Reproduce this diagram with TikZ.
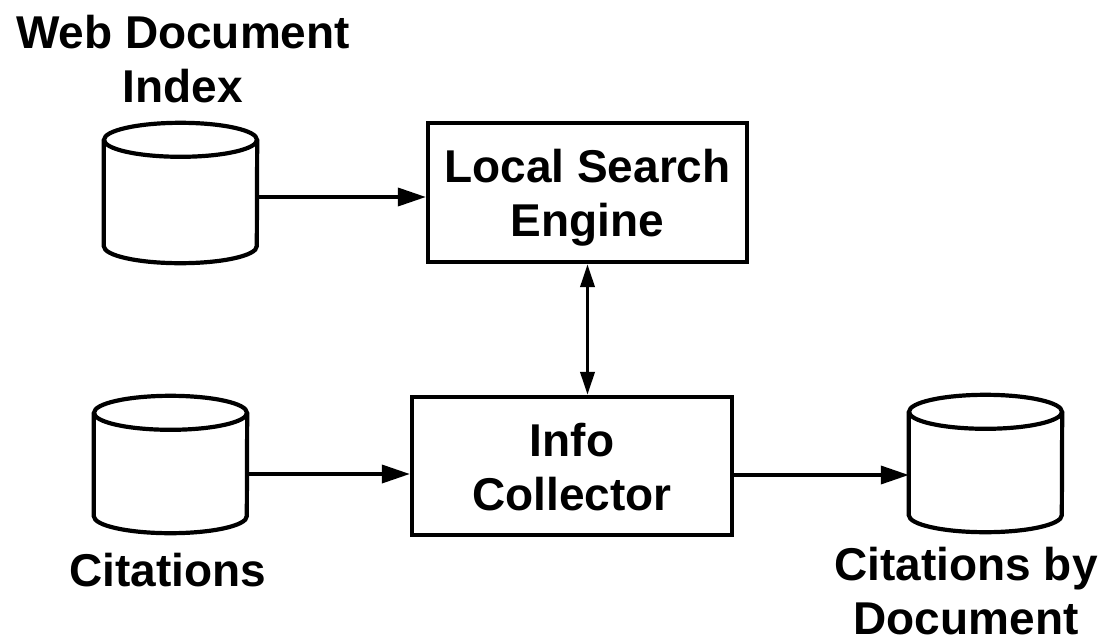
\documentclass[tikz,border=0pt]{standalone}
\usepackage{fontspec}
\setmainfont{Liberation Sans}
\usetikzlibrary{arrows.meta}
\tikzset{
  cylbox/.style={rectangle, inner sep=0pt, minimum width=153pt},
  procbox/.style={rectangle, draw, line width=4.2pt, inner sep=0pt, align=center,
    text height=88pt, text depth=0pt},
  lbl/.style={inner sep=0pt, anchor=base, align=center},
  harr/.style={line width=3.6pt, -{Triangle[length=28pt,width=18pt]}},
  varr/.style={line width=3.6pt, {Triangle[length=23pt,width=14pt]}-{Triangle[length=23pt,width=14pt]}},
  cylline/.style={line width=4.2pt},
}
\newcommand\drawcylinder[1]{%
  \draw[cylline] ([yshift=-17pt]#1.north) ellipse [x radius=76.5pt, y radius=17pt];
  \draw[cylline] ([yshift=-17pt]#1.north west) -- ([yshift=17pt]#1.south west)
    arc[start angle=180, end angle=360, x radius=76.5pt, y radius=17pt]
    -- ([yshift=-17pt]#1.north east);
}
\begin{document}
\begin{tikzpicture}[x=1pt,y=1pt, font=\fontsize{46}{54}\selectfont\bfseries]
\useasboundingbox (0,0) rectangle (1104,-643);
% cylinders
\node[cylbox, minimum height=140pt] (wdb) at (180.5,-193) {};
\node[cylbox, minimum height=137pt] (cit) at (170.5,-464.5) {};
\node[cylbox, minimum height=137pt] (cbd) at (985.5,-463.5) {};
\drawcylinder{wdb}
\drawcylinder{cit}
\drawcylinder{cbd}
% process boxes
\node[procbox, minimum width=319pt, minimum height=139pt] (lse) at (587.5,-192.5) {Local Search\\Engine};
\node[procbox, minimum width=320pt, minimum height=138pt] (ic) at (572,-466) {Info\\Collector};
% labels
\node[lbl] (wdbl) at (183,-102) {Web Document\\Index};
\node[lbl] (citl) at (167.5,-586) {Citations};
\node[lbl] (cbdl) at (966,-634) {Citations by\\Document};
% connectors
\draw[harr] ([yshift=-4pt]wdb.east) -- ([yshift=-4pt]wdb.east -| lse.west);
\draw[harr] ([yshift=-9.5pt]cit.east) -- ([yshift=-9.5pt]cit.east -| ic.west);
\draw[harr] ([yshift=-9pt]ic.east) -- ([yshift=-9pt]ic.east -| cbd.west);
\draw[varr] (lse.south) -- (lse.south |- ic.north);
\end{tikzpicture}
\end{document}
